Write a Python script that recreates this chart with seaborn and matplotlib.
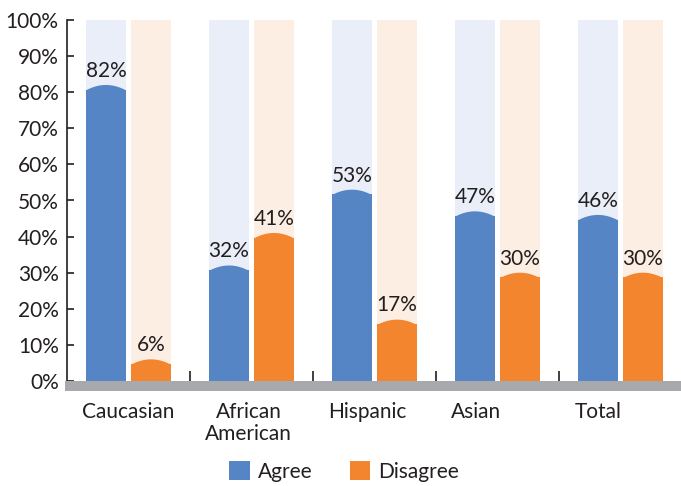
import numpy as np
import pandas as pd
import matplotlib
matplotlib.use("Agg")
import matplotlib.pyplot as plt
import matplotlib.transforms as mtrans
import seaborn as sns
from matplotlib.patches import Rectangle, Polygon, Patch
from matplotlib.ticker import FixedLocator

categories = ["Caucasian", "African\nAmerican", "Hispanic", "Asian", "Total"]
agree = [82, 32, 53, 47, 46]
disagree = [6, 41, 17, 30, 30]
series = ["Agree", "Disagree"]
yticks = [0, 10, 20, 30, 40, 50, 60, 70, 80, 90, 100]

sns.set_style("white")
plt.rcParams["font.family"] = ["Lato", "DejaVu Sans"]
TXT = "#231F20"
FS = 15

main_colors = ["#5585C5", "#F3852E"]
bg_colors = ["#E9EEF8", "#FDEEE4"]

df = pd.DataFrame({
    "cat": categories * 2,
    "series": [series[0]] * len(categories) + [series[1]] * len(categories),
    "value": agree + disagree,
})
df["full"] = 100

fig = plt.figure(figsize=(6.81, 4.86), dpi=100)
ax = fig.add_axes([67 / 681, (486 - 381) / 486, 615 / 681, 361 / 486])

W, GAP = 0.732, 0.11
sns.barplot(data=df, x="cat", y="full", hue="series", palette=bg_colors,
            width=W, gap=GAP, ax=ax, legend=False, saturation=1,
            linewidth=0, order=categories, hue_order=series)
n_bg = len(ax.patches)
sns.barplot(data=df, x="cat", y="value", hue="series", palette=main_colors,
            width=W, gap=GAP, ax=ax, legend=False, saturation=1,
            linewidth=0, order=categories, hue_order=series)

ax.set_xlim(-0.5, len(categories) - 0.5)
ax.set_ylim(0, 100)

# rounded (arched) tops and value labels
d = 1.5
for p in ax.patches[n_bg:]:
    x0, w, h = p.get_x(), p.get_width(), p.get_height()
    if h <= 0:
        continue
    p.set_height(h - d + 0.2)
    xs = np.linspace(x0, x0 + w, 60)
    t = (xs - (x0 + w / 2)) / (w / 2)
    ys = (h - d) + d * (1 - t ** 2)
    pts = np.column_stack([np.r_[xs, x0 + w, x0], np.r_[ys, h - d - 0.3, h - d - 0.3]])
    ax.add_patch(Polygon(pts, closed=True, facecolor=p.get_facecolor(),
                         edgecolor="none", linewidth=0, zorder=p.get_zorder()))
    ax.annotate(f"{int(round(h))}%", (x0 + w / 2, h), xytext=(0, 3),
                textcoords="offset points", ha="center", va="bottom",
                fontsize=FS, color=TXT)

# axes styling
for s in ["top", "right", "bottom"]:
    ax.spines[s].set_visible(False)
ax.spines["left"].set_color(TXT)
ax.spines["left"].set_linewidth(1.2)
ax.set_yticks(yticks)
ax.set_yticklabels([f"{v}%" for v in yticks], fontsize=FS, color=TXT)
ax.tick_params(axis="y", direction="in", length=5, width=1.2, color=TXT, pad=6,
               left=True)
ax.set_xlabel("")
ax.set_ylabel("")
ax.set_xticks(range(len(categories)))
ax.set_xticklabels([])
ax.tick_params(axis="x", which="major", length=0)
ax.xaxis.set_minor_locator(FixedLocator([i + 0.5 for i in range(len(categories))]))
ax.tick_params(axis="x", which="minor", direction="in", length=7, width=1.2,
               color=TXT, bottom=True)

# grey base band
ax.add_patch(Rectangle((-0.003, -10 / 361), 1.003, 10 / 361, transform=ax.transAxes,
                       facecolor="#A7A9AC", edgecolor="none", clip_on=False, zorder=5))

# category labels, left aligned with the first bar of each group
trans = mtrans.blended_transform_factory(ax.transData, ax.transAxes)
for i, c in enumerate(categories):
    ax.text(i - W / 2 - 0.01, -21 / 361, c, transform=trans, ha="left", va="top",
            multialignment="center", fontsize=FS, color=TXT, linespacing=1.15)

handles = [Patch(facecolor=main_colors[0], edgecolor="none"),
           Patch(facecolor=main_colors[1], edgecolor="none")]
fig.legend(handles, series, loc="lower center", bbox_to_anchor=(0.505, -0.03),
           ncol=2, frameon=False, fontsize=FS, handlelength=1.0, handleheight=1.0,
           handletextpad=0.35, columnspacing=1.8, labelcolor=TXT)

fig.savefig("out.png", dpi=100)
